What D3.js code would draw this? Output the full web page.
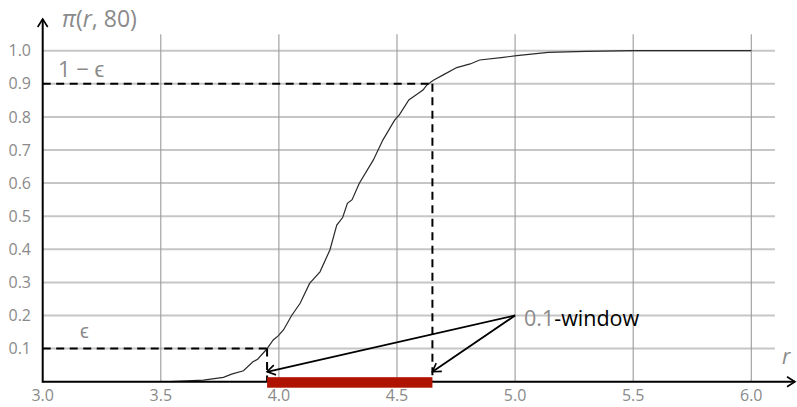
<!DOCTYPE html>
<html><head><meta charset="utf-8">
<script src="https://cdn.jsdelivr.net/npm/d3@7"></script>
<style>html,body{margin:0;padding:0;background:#fff;}svg{display:block;}</style>
</head><body>
<svg id="c" width="797" height="407"></svg>
<script>
const xTicks = [3.0, 3.5, 4.0, 4.5, 5.0, 5.5, 6.0];
const yTicks = [0.1, 0.2, 0.3, 0.4, 0.5, 0.6, 0.7, 0.8, 0.9, 1.0];
const curveR = [3.54, 3.68, 3.765, 3.80, 3.85, 3.89, 3.91, 3.948, 3.976, 3.998, 4.02, 4.054, 4.09, 4.13, 4.174, 4.216, 4.245, 4.27, 4.29, 4.31, 4.34, 4.40, 4.44, 4.49, 4.51, 4.55, 4.58, 4.61, 4.626, 4.654, 4.696, 4.753, 4.81, 4.85, 4.95, 5.007, 5.14, 5.3, 5.5, 6.0];
const curveP = [0.0, 0.005, 0.013, 0.023, 0.033, 0.06, 0.068, 0.098, 0.126, 0.139, 0.157, 0.2, 0.237, 0.297, 0.332, 0.398, 0.473, 0.496, 0.539, 0.55, 0.599, 0.67, 0.73, 0.79, 0.806, 0.851, 0.866, 0.881, 0.896, 0.911, 0.927, 0.949, 0.96, 0.972, 0.98, 0.985, 0.995, 0.998, 1.0, 1.0];
const epsilon = 0.1;
const windowBounds = [3.95, 4.65];
const labelPoint = [5.0, 0.2];
const arrowTipP = 0.03;

const svg = d3.select("#c");
const x = d3.scaleLinear().domain([3.0, 6.1]).range([42.7, 774.9]);
const y = d3.scaleLinear().domain([0, 1.05]).range([381.7, 34.15]);
const gray = "#8a8a8a";
const font = "'Open Sans', sans-serif";

const defs = svg.append("defs");
defs.append("marker").attr("id", "arr").attr("viewBox", "-10 -6 12 12")
  .attr("refX", 0).attr("refY", 0).attr("markerWidth", 12).attr("markerHeight", 12)
  .attr("markerUnits", "userSpaceOnUse").attr("orient", "auto")
  .append("path").attr("d", "M-8,-5 L0,0 L-8,5").attr("fill", "none")
  .attr("stroke", "#000").attr("stroke-width", 1.6);

// grid
svg.append("g").selectAll("line").data(yTicks).join("line")
  .attr("x1", x(3.0)).attr("x2", x(6.1)).attr("y1", d => y(d)).attr("y2", d => y(d))
  .attr("stroke", "#c6c6c6").attr("stroke-width", 2);
svg.append("g").selectAll("line").data(xTicks.slice(1)).join("line")
  .attr("x1", d => x(d)).attr("x2", d => x(d)).attr("y1", y(0)).attr("y2", y(1.05))
  .attr("stroke", "#9a9a9a").attr("stroke-width", 1.1);

// tick labels
svg.append("g").selectAll("text").data(yTicks).join("text")
  .attr("x", 31).attr("y", d => y(d)).attr("dy", "0.35em").attr("text-anchor", "end")
  .attr("font-family", font).attr("font-size", 16).attr("fill", gray)
  .text(d => d3.format(".1f")(d));
svg.append("g").selectAll("text").data(xTicks).join("text")
  .attr("x", d => x(d)).attr("y", 401).attr("text-anchor", "middle")
  .attr("font-family", font).attr("font-size", 16).attr("fill", gray)
  .text(d => d3.format(".1f")(d));

// curve
const line = d3.line().x(d => x(d[0])).y(d => y(d[1])).curve(d3.curveLinear);
svg.append("path").datum(curveR.map((r, i) => [r, curveP[i]]))
  .attr("d", line).attr("fill", "none").attr("stroke", "#2a2a2a").attr("stroke-width", 1.2);

// dashed guides
const dash = "8,5.5";
function dl(x1, y1, x2, y2) {
  svg.append("line").attr("x1", x1).attr("y1", y1).attr("x2", x2).attr("y2", y2)
    .attr("stroke", "#000").attr("stroke-width", 2).attr("stroke-dasharray", dash);
}
dl(x(3.0), y(1 - epsilon), x(windowBounds[1]), y(1 - epsilon));
dl(x(windowBounds[1]), y(1 - epsilon), x(windowBounds[1]), y(0));
dl(x(3.0), y(epsilon), x(windowBounds[0]), y(epsilon));
dl(x(windowBounds[0]), y(epsilon), x(windowBounds[0]), y(0));

// axes
svg.append("line").attr("x1", x(3.0)).attr("y1", y(0)).attr("x2", 795).attr("y2", y(0))
  .attr("stroke", "#000").attr("stroke-width", 2).attr("marker-end", "url(#arr)");
svg.append("line").attr("x1", x(3.0)).attr("y1", y(0) + 1).attr("x2", x(3.0)).attr("y2", 19)
  .attr("stroke", "#000").attr("stroke-width", 2).attr("marker-end", "url(#arr)");

// red window bar (on top of axis)
svg.append("rect").attr("x", x(windowBounds[0])).attr("y", y(0) - 4.5)
  .attr("width", x(windowBounds[1]) - x(windowBounds[0])).attr("height", 10.5)
  .attr("fill", "#b01200");

// annotation arrows
windowBounds.forEach(b => {
  svg.append("line").attr("x1", x(labelPoint[0])).attr("y1", y(labelPoint[1]))
    .attr("x2", x(b)).attr("y2", y(arrowTipP))
    .attr("stroke", "#000").attr("stroke-width", 1.8).attr("marker-end", "url(#arr)");
});

// labels
const t1 = svg.append("text").attr("x", 62).attr("y", 27).attr("font-family", font)
  .attr("font-size", 23).attr("fill", gray);
t1.append("tspan").attr("font-style", "italic").text("π");
t1.append("tspan").text("(");
t1.append("tspan").attr("font-style", "italic").text("r");
t1.append("tspan").text(", 80)");

svg.append("text").attr("x", 58).attr("y", 77).attr("font-family", font)
  .attr("font-size", 22).attr("fill", gray).text("1 − ϵ");
svg.append("text").attr("x", 80).attr("y", 338).attr("font-family", font)
  .attr("font-size", 20).attr("fill", gray).text("ϵ");
svg.append("text").attr("x", 782).attr("y", 364).attr("font-family", font)
  .attr("font-size", 21).attr("font-style", "italic").attr("fill", gray).text("r");

const t2 = svg.append("text").attr("x", 524).attr("y", 326).attr("font-family", font)
  .attr("font-size", 21.5);
t2.append("tspan").attr("fill", gray).text("0.1");
t2.append("tspan").attr("fill", "#000").text("-window");
</script>
</body></html>
